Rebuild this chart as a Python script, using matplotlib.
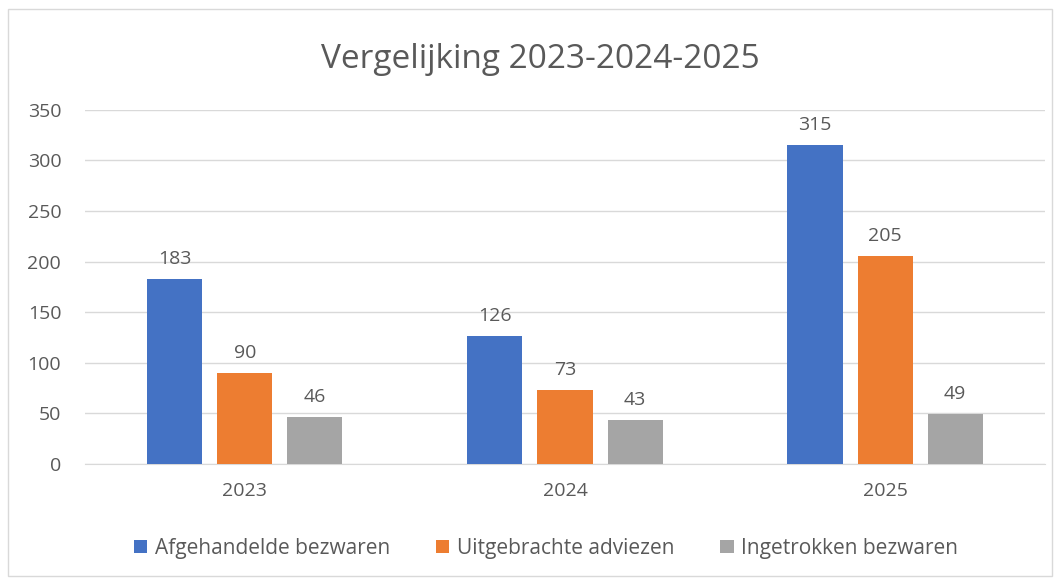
import numpy as np
import matplotlib.pyplot as plt
from matplotlib.patches import Rectangle

plt.rcParams['font.family'] = ['Open Sans', 'DejaVu Sans']

# data
years = ['2023', '2024', '2025']
afgehandeld = [183, 126, 315]
adviezen = [90, 73, 205]
ingetrokken = [46, 43, 49]
series_names = ['Afgehandelde bezwaren', 'Uitgebrachte adviezen', 'Ingetrokken bezwaren']
colors = ['#4472C4', '#ED7D31', '#A5A5A5']
txt = '#595959'

fig = plt.figure(figsize=(10.6, 5.79), dpi=100)
ax = fig.add_axes([0.080, 0.1986, 0.906, 0.612])

# chart border
fig.patches.append(Rectangle((0.008, 0.006), 0.984, 0.978, transform=fig.transFigure,
                             fill=False, edgecolor='#D9D9D9', linewidth=1))

x = np.arange(len(years))
width = 0.172
pitch = 0.219
for i, (vals, name, c) in enumerate(zip([afgehandeld, adviezen, ingetrokken], series_names, colors)):
    pos = x + (i - 1) * pitch
    ax.bar(pos, vals, width, color=c, label=name, zorder=3)
    for p, v in zip(pos, vals):
        ax.annotate(str(v), (p, v), xytext=(0, 8), textcoords='offset points',
                    ha='center', va='bottom', fontsize=14, color=txt)

ax.set_xlim(-0.5, 2.5)
ax.set_ylim(0, 350)
ax.set_yticks(range(0, 351, 50))
ax.set_xticks(x)
ax.set_xticklabels(years)
ax.yaxis.grid(True, color='#D9D9D9', linewidth=1, zorder=0)
ax.tick_params(axis='both', length=0, labelsize=14, labelcolor=txt)
ax.tick_params(axis='x', pad=13)
ax.tick_params(axis='y', pad=17)
for s in ['top', 'right', 'left']:
    ax.spines[s].set_visible(False)
ax.spines['bottom'].set_color('#D9D9D9')

fig.text(0.510, 0.897, 'Vergelijking 2023-2024-2025', ha='center', va='center',
         fontsize=24, color=txt)

fig.legend(loc='center', bbox_to_anchor=(0.515, 0.053), ncol=3, frameon=False,
           fontsize=15, handlelength=0.65, handleheight=0.65, handletextpad=0.35,
           columnspacing=2.2, labelcolor=txt)

fig.savefig('out.png', dpi=100, facecolor='white')
